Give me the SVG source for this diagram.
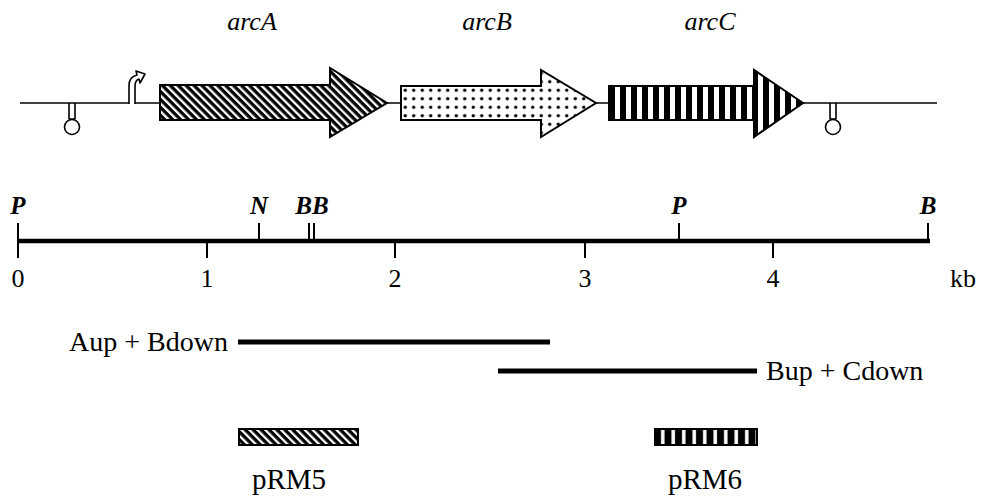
<svg xmlns="http://www.w3.org/2000/svg" width="981" height="496" viewBox="0 0 981 496">
<defs>
<pattern id="diag" patternUnits="userSpaceOnUse" width="5.6" height="10" patternTransform="rotate(-45)">
<rect width="5.6" height="10" fill="#000"/>
<rect x="0" width="2.3" height="10" fill="#fff"/>
</pattern>
<pattern id="dots" patternUnits="userSpaceOnUse" width="8.5" height="8.5" x="401" y="86">
<rect width="8.5" height="8.5" fill="#fff"/>
<circle cx="4.25" cy="4.25" r="1.7" fill="#000"/>
</pattern>
<pattern id="vert" patternUnits="userSpaceOnUse" width="11" height="10" x="611" y="0">
<rect width="11" height="10" fill="#000"/>
<rect x="4" width="5" height="10" fill="#fff"/>
</pattern>
<pattern id="vert2" patternUnits="userSpaceOnUse" width="10.5" height="10" x="657" y="0">
<rect width="10.5" height="10" fill="#000"/>
<rect x="4" width="3.5" height="10" fill="#fff"/>
</pattern>
</defs>
<style>
.line{stroke:#000;fill:none}
.gene{stroke:#000;stroke-width:2;stroke-linejoin:miter}
.lab{font-family:"Liberation Serif","Times New Roman",serif;fill:#000}
.gname{font-style:italic;font-size:26px;text-anchor:middle}
.site{font-style:italic;font-weight:bold;font-size:25px;text-anchor:middle}
.num{font-size:26px;text-anchor:middle}
.frag{font-size:28px}
.plas{font-size:29px;text-anchor:middle}
</style>

<g id="operon">
<line class="line" x1="20" y1="103" x2="937" y2="103" stroke-width="1.6"/>
</g>

<g id="terminator1">
<path class="line" d="M69,103 V119 M75,103 V119 M69,119 H75" stroke-width="1.6"/>
<circle cx="72" cy="127" r="7.5" fill="#fff" stroke="#000" stroke-width="1.6"/>
</g>

<g id="promoter">
<path d="M129,104 L129,86 C129,79 132,76 137,75 L136,71 L145,74 L140,83 L139,79 C136,80 135,82 135,86 L135,104" fill="#fff" stroke="#000" stroke-width="1.6" stroke-linejoin="round"/>
</g>

<g id="arcA">
<path class="gene" fill="url(#diag)" d="M160,85 L330,85 L330,68 L387,103 L330,137 L330,120 L160,120 Z"/>
<text class="lab gname" x="252" y="30">arcA</text>
</g>

<g id="arcB">
<path class="gene" fill="url(#dots)" d="M401,86 L541,86 L541,70 L596,103 L541,137 L541,120 L401,120 Z"/>
<text class="lab gname" x="487" y="30">arcB</text>
</g>

<g id="arcC">
<path class="gene" fill="url(#vert)" d="M609,86 L754,86 L754,70 L803,103 L754,137 L754,120 L609,120 Z"/>
<text class="lab gname" x="710" y="30">arcC</text>
</g>

<g id="terminator2">
<path class="line" d="M830,103 V119 M836,103 V119 M830,119 H836" stroke-width="1.6"/>
<circle cx="833" cy="127" r="7.5" fill="#fff" stroke="#000" stroke-width="1.6"/>
</g>

<g id="scale">
<line class="line" x1="18" y1="241" x2="930" y2="241" stroke-width="4.5"/>
<g class="line" stroke-width="2">
<line x1="18" y1="223" x2="18" y2="258"/>
<line x1="207" y1="241" x2="207" y2="258"/>
<line x1="395" y1="241" x2="395" y2="258"/>
<line x1="585" y1="241" x2="585" y2="258"/>
<line x1="773" y1="241" x2="773" y2="258"/>
<line x1="259" y1="223" x2="259" y2="241"/>
<line x1="309" y1="223" x2="309" y2="241"/>
<line x1="314" y1="223" x2="314" y2="241"/>
<line x1="679" y1="223" x2="679" y2="241"/>
<line x1="928" y1="223" x2="928" y2="243"/>
</g>
<text class="lab site" x="18" y="214">P</text>
<text class="lab site" x="259" y="214">N</text>
<text class="lab site" x="312" y="214">BB</text>
<text class="lab site" x="679" y="214">P</text>
<text class="lab site" x="928" y="214">B</text>
<text class="lab num" x="18" y="287">0</text>
<text class="lab num" x="207" y="287">1</text>
<text class="lab num" x="395" y="287">2</text>
<text class="lab num" x="585" y="287">3</text>
<text class="lab num" x="773" y="287">4</text>
<text class="lab num" x="963" y="287">kb</text>
</g>

<g id="AupBdown">
<line class="line" x1="238" y1="342" x2="550" y2="342" stroke-width="5"/>
<text class="lab frag" x="228" y="351" text-anchor="end">Aup + Bdown</text>
</g>

<g id="BupCdown">
<line class="line" x1="498" y1="371" x2="757" y2="371" stroke-width="5"/>
<text class="lab frag" x="766" y="380">Bup + Cdown</text>
</g>

<g id="pRM5">
<rect x="239" y="429" width="119" height="16" fill="url(#diag)" stroke="#000" stroke-width="2"/>
<text class="lab plas" x="289" y="489">pRM5</text>
</g>

<g id="pRM6">
<rect x="655" y="429" width="102" height="16" fill="url(#vert2)" stroke="#000" stroke-width="2"/>
<text class="lab plas" x="705" y="489">pRM6</text>
</g>
</svg>
